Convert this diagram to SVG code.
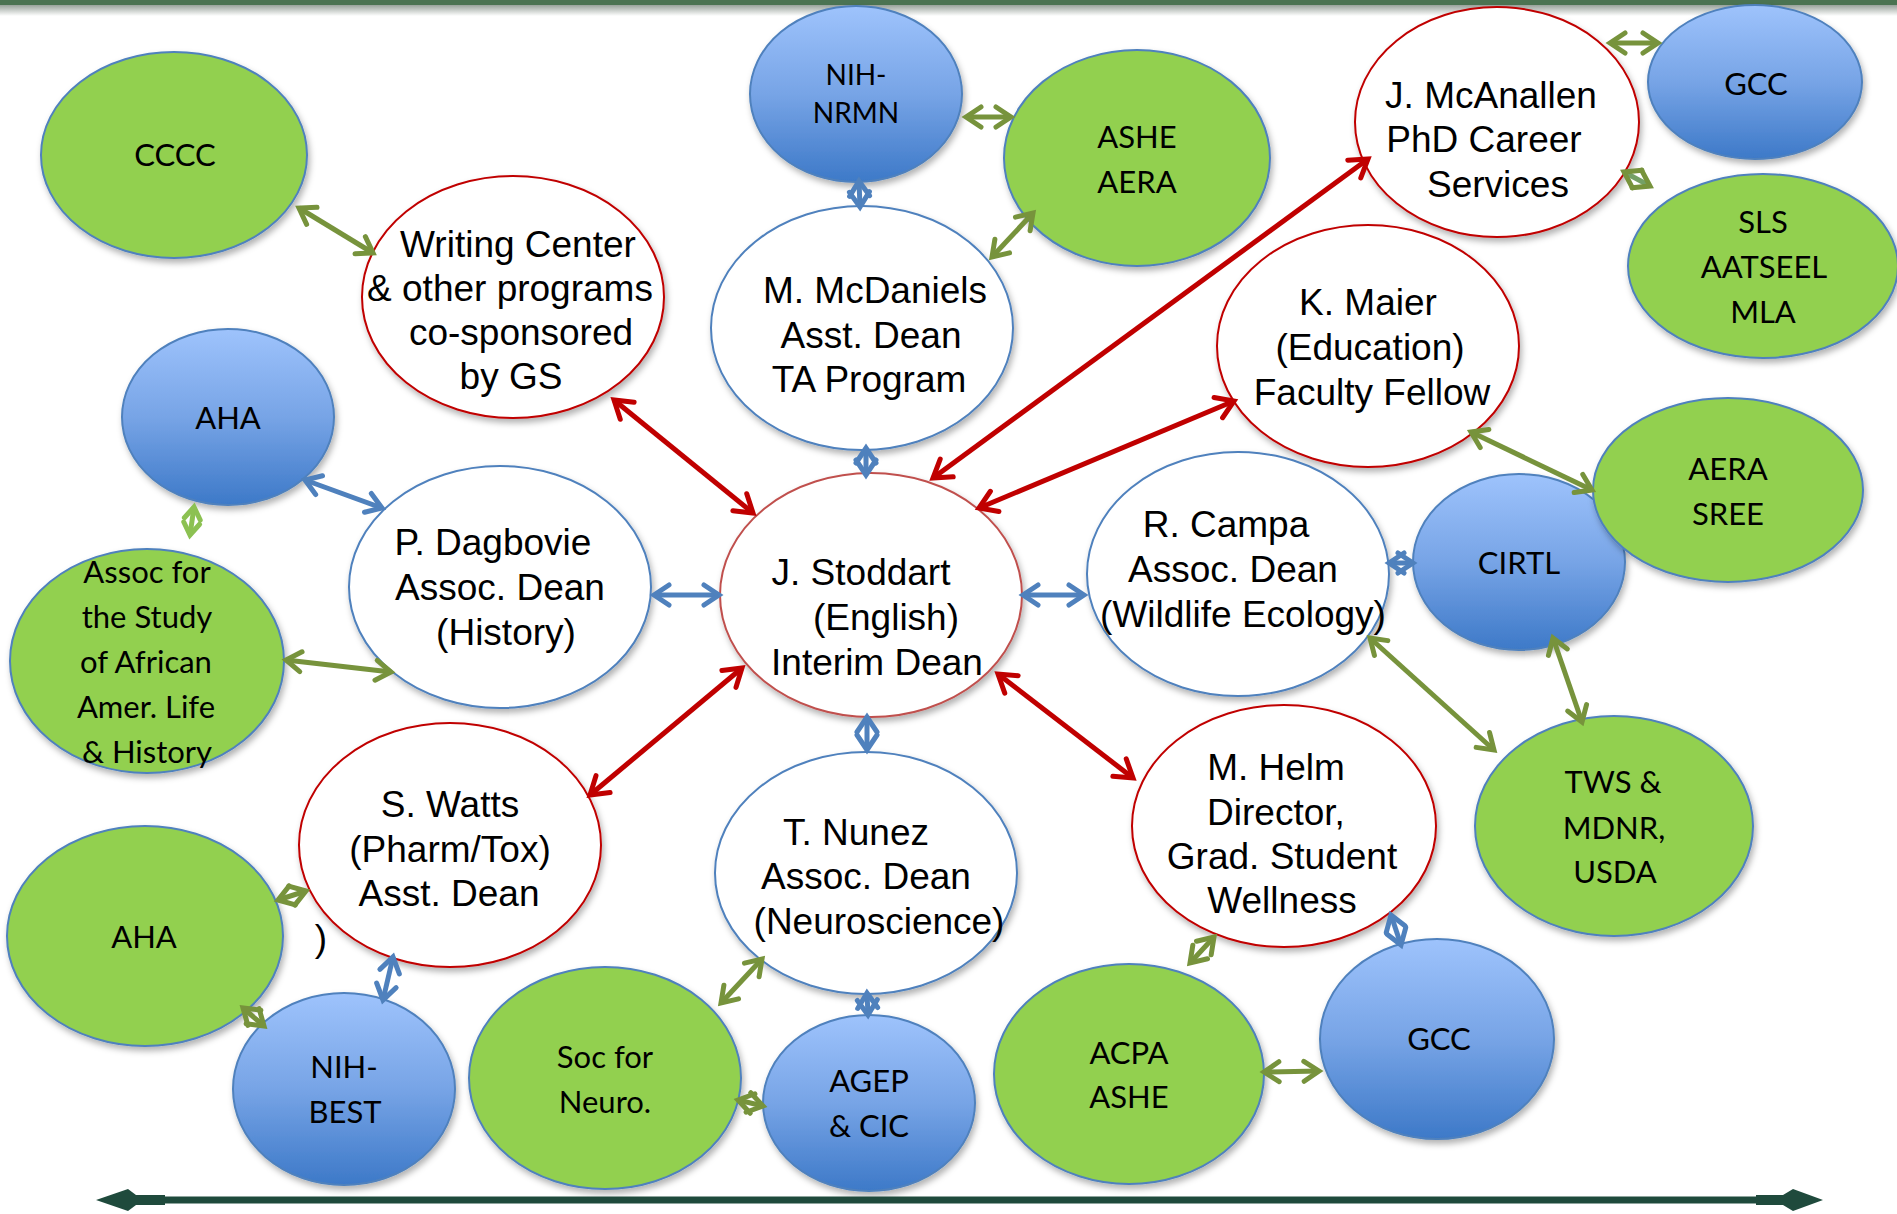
<svg xmlns="http://www.w3.org/2000/svg" width="1897" height="1214" viewBox="0 0 1897 1214">
<style>
.w{fill:#ffffff;stroke-width:2}
.rs{stroke:#c00000}
.bs{stroke:#4f81bd}
.g{fill:#92d050;stroke:#4f81bd;stroke-width:2}
.b{fill:url(#blueGrad);stroke:#4f81bd;stroke-width:2}
.sh{filter:url(#shadow)}
.a{font-family:"Liberation Sans",Arial,sans-serif;font-size:37px;fill:#000;text-anchor:middle}
.c{font-family:Lato,"Open Sans",sans-serif;font-size:31px;fill:#000;text-anchor:middle}
.s{font-family:Lato,"Open Sans",sans-serif;font-size:28px;fill:#000;text-anchor:middle}
.red{stroke:#c00000;stroke-width:5;fill:none;marker-start:url(#mr);marker-end:url(#mr)}
.blu{stroke:#4f81bd;stroke-width:5;fill:none;marker-start:url(#mb);marker-end:url(#mb)}
.grn{stroke:#77933c;stroke-width:5;fill:none;marker-start:url(#mg);marker-end:url(#mg)}
.lgr{stroke:#8cc152;stroke-width:5;fill:none;marker-start:url(#ml);marker-end:url(#ml)}
</style>
<defs>
<linearGradient id="blueGrad" x1="0" y1="0" x2="0" y2="1">
<stop offset="0" stop-color="#9ec3fc"/>
<stop offset="0.5" stop-color="#77a4e6"/>
<stop offset="1" stop-color="#3d79c8"/>
</linearGradient>
<linearGradient id="topShade" x1="0" y1="0" x2="0" y2="1">
<stop offset="0" stop-color="#8f9a92"/>
<stop offset="1" stop-color="#ffffff"/>
</linearGradient>
<filter id="shadow" x="-10%" y="-10%" width="125%" height="130%">
<feDropShadow dx="2" dy="4" stdDeviation="3" flood-color="#000" flood-opacity="0.3"/>
</filter>
<marker id="mr" markerUnits="userSpaceOnUse" markerWidth="40" markerHeight="40" refX="0" refY="0" orient="auto-start-reverse" overflow="visible">
<path d="M-17,-11 L0,0 L-17,11" fill="none" stroke="#c00000" stroke-width="5" stroke-linecap="round"/>
</marker>
<marker id="mb" markerUnits="userSpaceOnUse" markerWidth="40" markerHeight="40" refX="0" refY="0" orient="auto-start-reverse" overflow="visible">
<path d="M-15,-10 L0,0 L-15,10" fill="none" stroke="#4f81bd" stroke-width="5" stroke-linecap="round"/>
</marker>
<marker id="mg" markerUnits="userSpaceOnUse" markerWidth="40" markerHeight="40" refX="0" refY="0" orient="auto-start-reverse" overflow="visible">
<path d="M-15,-10 L0,0 L-15,10" fill="none" stroke="#77933c" stroke-width="5" stroke-linecap="round"/>
</marker>
<marker id="ml" markerUnits="userSpaceOnUse" markerWidth="40" markerHeight="40" refX="0" refY="0" orient="auto-start-reverse" overflow="visible">
<path d="M-12,-8 L0,0 L-12,8" fill="none" stroke="#8cc152" stroke-width="5" stroke-linecap="round"/>
</marker>
</defs>
<rect x="0" y="0" width="1897" height="1214" fill="#ffffff"/>
<rect x="0" y="4" width="1897" height="12" fill="url(#topShade)"/>
<rect x="0" y="0" width="1897" height="5" fill="#4b7352"/>

<g id="nodes">
<g id="cccc"><ellipse class="g sh" cx="174" cy="155" rx="133" ry="103"/><text class="c" x="175" y="166">CCCC</text></g>
<g id="writing-center"><ellipse class="w rs sh" cx="513" cy="297" rx="151" ry="121"/>
<text class="a" x="518" y="257">Writing Center</text><text class="a" x="510" y="301">&amp; other programs</text><text class="a" x="521" y="345">co-sponsored</text><text class="a" x="511" y="389">by GS</text></g>
<g id="nih-nrmn"><ellipse class="b sh" cx="856" cy="94" rx="106" ry="88"/><text class="s" x="856" y="85">NIH-</text><text class="s" x="856" y="123">NRMN</text></g>
<g id="ashe-aera"><ellipse class="g sh" cx="1137" cy="158" rx="133" ry="108"/><text class="c" x="1137" y="148">ASHE</text><text class="c" x="1137" y="193">AERA</text></g>
<g id="mcdaniels"><ellipse class="w bs sh" cx="862" cy="328" rx="151" ry="122"/>
<text class="a" x="875" y="303">M. McDaniels</text><text class="a" x="871" y="348">Asst. Dean</text><text class="a" x="869" y="392">TA Program</text></g>
<g id="mcanallen"><ellipse class="w rs sh" cx="1497" cy="122" rx="142" ry="115"/>
<text class="a" x="1491" y="108">J. McAnallen</text><text class="a" x="1484" y="152">PhD Career</text><text class="a" x="1498" y="197">Services</text></g>
<g id="gcc-top"><ellipse class="b sh" cx="1755" cy="82" rx="107" ry="77"/><text class="c" x="1756" y="95">GCC</text></g>
<g id="sls"><ellipse class="g sh" cx="1763" cy="266" rx="135" ry="92"/>
<text class="c" x="1763" y="233">SLS</text><text class="c" x="1764" y="278">AATSEEL</text><text class="c" x="1763" y="323">MLA</text></g>
<g id="maier"><ellipse class="w rs sh" cx="1368" cy="346" rx="151" ry="121"/>
<text class="a" x="1368" y="315">K. Maier</text><text class="a" x="1370" y="360">(Education)</text><text class="a" x="1372" y="405">Faculty Fellow</text></g>
<g id="aha-top"><ellipse class="b sh" cx="228" cy="417" rx="106" ry="88"/><text class="c" x="228" y="429">AHA</text></g>
<g id="asalh"><ellipse class="g sh" cx="147" cy="661" rx="137" ry="112"/>
<text class="c" x="147" y="583">Assoc for</text><text class="c" x="147" y="628">the Study</text><text class="c" x="146" y="673">of African</text><text class="c" x="146" y="718">Amer. Life</text><text class="c" x="147" y="763">&amp; History</text></g>
<g id="dagbovie"><ellipse class="w bs sh" cx="500" cy="587" rx="151" ry="121"/>
<text class="a" x="493" y="555">P. Dagbovie</text><text class="a" x="500" y="600">Assoc. Dean</text><text class="a" x="506" y="645">(History)</text></g>
<g id="stoddart"><ellipse class="w sh" stroke="#c0504d" cx="871" cy="595" rx="151" ry="122"/>
<text class="a" x="861" y="585">J. Stoddart</text><text class="a" x="886" y="630">(English)</text><text class="a" x="877" y="675">Interim Dean</text></g>
<g id="campa"><ellipse class="w bs sh" cx="1238" cy="574" rx="151" ry="122"/>
<text class="a" x="1226" y="537">R. Campa</text><text class="a" x="1233" y="582">Assoc. Dean</text><text class="a" x="1243" y="627">(Wildlife Ecology)</text></g>
<g id="cirtl"><ellipse class="b sh" cx="1519" cy="562" rx="106" ry="88"/><text class="c" x="1519" y="574">CIRTL</text></g>
<g id="aera-sree"><ellipse class="g sh" cx="1728" cy="490" rx="135" ry="92"/><text class="c" x="1728" y="480">AERA</text><text class="c" x="1728" y="525">SREE</text></g>
<g id="tws"><ellipse class="g sh" cx="1614" cy="826" rx="139" ry="110"/>
<text class="c" x="1613" y="793">TWS &amp;</text><text class="c" x="1614" y="839">MDNR,</text><text class="c" x="1615" y="883">USDA</text></g>
<g id="helm"><ellipse class="w rs sh" cx="1284" cy="826" rx="152" ry="121"/>
<text class="a" x="1276" y="780">M. Helm</text><text class="a" x="1276" y="825">Director,</text><text class="a" x="1282" y="869">Grad. Student</text><text class="a" x="1282" y="913">Wellness</text></g>
<g id="watts"><ellipse class="w rs sh" cx="450" cy="845" rx="151" ry="122"/>
<text class="a" x="450" y="817">S. Watts</text><text class="a" x="450" y="862">(Pharm/Tox)</text><text class="a" x="449" y="906">Asst. Dean</text></g>
<g id="nunez"><ellipse class="w bs sh" cx="866" cy="873" rx="151" ry="121"/>
<text class="a" x="856" y="845">T. Nunez</text><text class="a" x="866" y="889">Assoc. Dean</text><text class="a" x="879" y="934">(Neuroscience)</text></g>
<g id="aha-bottom"><ellipse class="g sh" cx="145" cy="936" rx="138" ry="110"/><text class="c" x="144" y="948">AHA</text></g>
<g id="nih-best"><ellipse class="b sh" cx="344" cy="1089" rx="111" ry="96"/><text class="c" x="344" y="1078">NIH-</text><text class="c" x="345" y="1123">BEST</text></g>
<g id="sfn"><ellipse class="g sh" cx="605" cy="1078" rx="136" ry="111"/><text class="c" x="605" y="1068">Soc for</text><text class="c" x="605" y="1113">Neuro.</text></g>
<g id="agep"><ellipse class="b sh" cx="869" cy="1103" rx="106" ry="88"/><text class="c" x="869" y="1092">AGEP</text><text class="c" x="869" y="1137">&amp; CIC</text></g>
<g id="acpa"><ellipse class="g sh" cx="1129" cy="1074" rx="135" ry="110"/><text class="c" x="1129" y="1064">ACPA</text><text class="c" x="1129" y="1108">ASHE</text></g>
<g id="gcc-bottom"><ellipse class="b sh" cx="1437" cy="1039" rx="117" ry="100"/><text class="c" x="1439" y="1050">GCC</text></g>
</g>

<text class="a" x="321" y="951">)</text>

<g id="connectors">
<line class="red" x1="614" y1="400" x2="753" y2="513"/>
<line class="red" x1="933" y1="478" x2="1368" y2="159"/>
<line class="red" x1="979" y1="508" x2="1234" y2="401"/>
<line class="red" x1="590" y1="795" x2="742" y2="668"/>
<line class="red" x1="998" y1="674" x2="1133" y2="778"/>

<line class="blu" x1="305" y1="480" x2="382" y2="508"/>
<line class="blu" x1="654" y1="595" x2="719" y2="595"/>
<line class="blu" x1="1023" y1="595" x2="1084" y2="595"/>
<line class="blu" x1="859" y1="181" x2="860" y2="207"/>
<line class="blu" x1="866" y1="448" x2="866" y2="475"/>
<line class="blu" x1="867" y1="717" x2="867" y2="750"/>
<line class="blu" x1="1389" y1="563" x2="1413" y2="563"/>
<line class="blu" x1="393" y1="957" x2="383" y2="1000"/>
<line class="blu" x1="867" y1="993" x2="868" y2="1015"/>
<line class="blu" x1="1391" y1="915" x2="1401" y2="945"/>

<line class="grn" x1="299" y1="208" x2="373" y2="253"/>
<line class="grn" x1="966" y1="117" x2="1011" y2="117"/>
<line class="grn" x1="1033" y1="213" x2="992" y2="257"/>
<line class="grn" x1="1610" y1="43" x2="1658" y2="43"/>
<line class="grn" x1="1624" y1="172" x2="1650" y2="186" style="stroke:#74a065"/>
<line class="lgr" x1="194" y1="507" x2="190" y2="535"/>
<line class="grn" x1="286" y1="660" x2="391" y2="672"/>
<line class="grn" x1="1471" y1="432" x2="1592" y2="490"/>
<line class="grn" x1="1370" y1="638" x2="1494" y2="750"/>
<line class="grn" x1="1553" y1="638" x2="1582" y2="722"/>
<line class="grn" x1="278" y1="900" x2="306" y2="891"/>
<line class="grn" x1="243" y1="1008" x2="264" y2="1026"/>
<line class="grn" x1="762" y1="959" x2="721" y2="1003"/>
<line class="grn" x1="738" y1="1100" x2="763" y2="1106"/>
<line class="grn" x1="1214" y1="937" x2="1190" y2="963"/>
<line class="grn" x1="1264" y1="1072" x2="1319" y2="1071"/>
</g>

<g id="timeline">
<line x1="160" y1="1200" x2="1760" y2="1200" stroke="#1f4a3c" stroke-width="7"/>
<polygon points="96,1200 128,1189 136,1195 165,1195 165,1205 136,1205 128,1211" fill="#1f4a3c"/>
<polygon points="1756,1195 1783,1195 1793,1189 1823,1200 1793,1211 1783,1205 1756,1205" fill="#1f4a3c"/>
</g>
</svg>
